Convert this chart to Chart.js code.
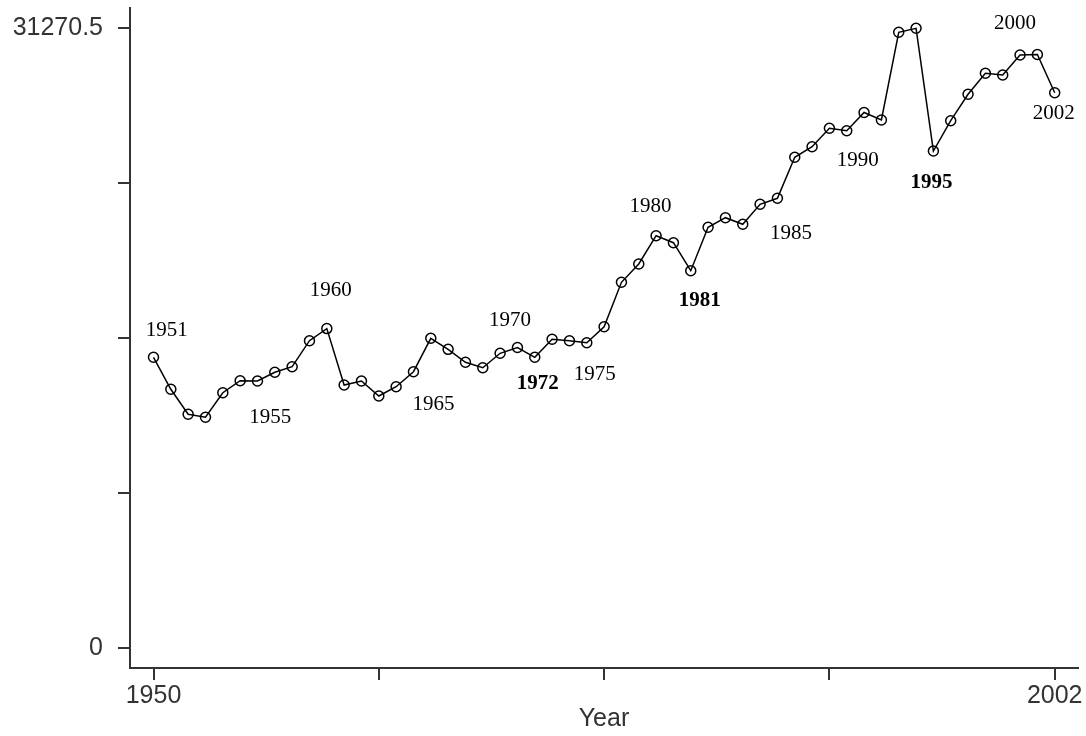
<!DOCTYPE html>
<html>
<head>
<meta charset="utf-8">
<script src="https://cdn.jsdelivr.net/npm/chart.js@4/dist/chart.umd.min.js"></script>
<style>
  html, body { margin: 0; padding: 0; background: #fff; }
  #wrap { width: 1086px; height: 736px; }
</style>
</head>
<body>
<div id="wrap"><canvas id="c" width="1086" height="736"></canvas></div>
<script>
// Annual series, 1950-2002
const years = [
  1950, 1951, 1952, 1953, 1954, 1955, 1956, 1957, 1958, 1959,
  1960, 1961, 1962, 1963, 1964, 1965, 1966, 1967, 1968, 1969,
  1970, 1971, 1972, 1973, 1974, 1975, 1976, 1977, 1978, 1979,
  1980, 1981, 1982, 1983, 1984, 1985, 1986, 1987, 1988, 1989,
  1990, 1991, 1992, 1993, 1994, 1995, 1996, 1997, 1998, 1999,
  2000, 2001, 2002
];
const values = [
  14677, 13063, 11802, 11651, 12891, 13497, 13480, 13920, 14203, 15514,
  16124, 13280, 13482, 12725, 13194, 13951, 15635, 15080, 14425, 14152,
  14879, 15171, 14677, 15585, 15514, 15413, 16220, 18460, 19383, 20810,
  20457, 19045, 21234, 21718, 21385, 22394, 22696, 24764, 25299, 26227,
  26106, 27024, 26646, 31069, 31270.5, 25082, 26610, 27942, 29001, 28915,
  29924, 29950, 28022
];

// Axis ticks
const xTicks = [1950, 1963, 1976, 1989, 2002];
const xTickLabels = ['1950', '', '', '', '2002'];
const yTicks = [0, 7817.625, 15635.25, 23452.875, 31270.5];
const yTickLabels = ['0', '', '', '', '31270.5'];

// Year annotations placed beside the line
const noteYears = [1951, 1955, 1960, 1965, 1970, 1972, 1975, 1980, 1981, 1985, 1990, 1995, 2000, 2002];
const noteBold  = [false, false, false, false, false, true, false, false, true, false, false, true, false, false];
// pixel offsets of each annotation from its point
const noteOffsets = [
  [-4, -59], [30, 37], [4, -38], [20, 33], [10, -33], [3, 26], [8, 32],
  [-23, -36], [9, 30], [31, 29], [11, 30], [-2, 32], [-5, -32], [-1, 21]
];

const axisColor = '#333333';
const tickFont = { family: '"Liberation Sans", Arial, sans-serif', size: 25 };

const notesPlugin = {
  id: 'yearNotes',
  afterDatasetsDraw(chart) {
    const ctx = chart.ctx;
    const xs = chart.scales.x, ys = chart.scales.y;
    ctx.save();
    ctx.fillStyle = '#000';
    ctx.textAlign = 'center';
    ctx.textBaseline = 'middle';
    noteYears.forEach((yr, i) => {
      const idx = years.indexOf(yr);
      const px = xs.getPixelForValue(yr) + noteOffsets[i][0];
      const py = ys.getPixelForValue(values[idx]) + noteOffsets[i][1];
      ctx.font = (noteBold[i] ? 'bold ' : '') + '21px "Liberation Serif", "Times New Roman", serif';
      ctx.fillText(String(yr), px, py);
    });
    ctx.restore();
  }
};

new Chart(document.getElementById('c'), {
  type: 'line',
  data: {
    datasets: [{
      data: years.map((y, i) => ({ x: y, y: values[i] })),
      borderColor: '#000',
      borderWidth: 1.5,
      pointRadius: 5,
      pointBorderWidth: 1.5,
      pointBorderColor: '#000',
      pointBackgroundColor: 'rgba(0,0,0,0)',
      pointStyle: 'circle',
      tension: 0
    }]
  },
  options: {
    responsive: false,
    animation: false,
    devicePixelRatio: 1,
    layout: { padding: { top: 8, right: 8, left: 0, bottom: 0 } },
    plugins: { legend: { display: false }, tooltip: { enabled: false } },
    scales: {
      x: {
        type: 'linear',
        min: 1948.644,
        max: 2003.344,
        afterBuildTicks(s) { s.ticks = xTicks.map(v => ({ value: v })); },
        afterFit(s) { s.height = 68; s.paddingLeft = 0; s.paddingRight = 0; },
        ticks: {
          autoSkip: false,
          maxRotation: 0,
          padding: 1,
          color: axisColor,
          font: tickFont,
          callback(v) { const k = xTicks.indexOf(v); return k >= 0 ? xTickLabels[k] : ''; }
        },
        grid: { drawOnChartArea: false, drawTicks: true, tickLength: 12, color: axisColor, lineWidth: 2 },
        border: { display: true, color: axisColor, width: 2 },
        title: { display: true, text: 'Year', color: axisColor, font: tickFont, padding: { top: 0, bottom: 2 } }
      },
      y: {
        type: 'linear',
        min: -993.6,
        max: 32294.4,
        afterBuildTicks(s) { s.ticks = yTicks.map(v => ({ value: v })); },
        afterFit(s) { s.width = 130; s.paddingTop = 0; s.paddingBottom = 0; },
        ticks: {
          autoSkip: false,
          padding: 15,
          color: axisColor,
          font: tickFont,
          callback(v) { const k = yTicks.indexOf(v); return k >= 0 ? yTickLabels[k] : ''; }
        },
        grid: { drawOnChartArea: false, drawTicks: true, tickLength: 12, color: axisColor, lineWidth: 2 },
        border: { display: true, color: axisColor, width: 2 }
      }
    }
  },
  plugins: [notesPlugin]
});
</script>
</body>
</html>
